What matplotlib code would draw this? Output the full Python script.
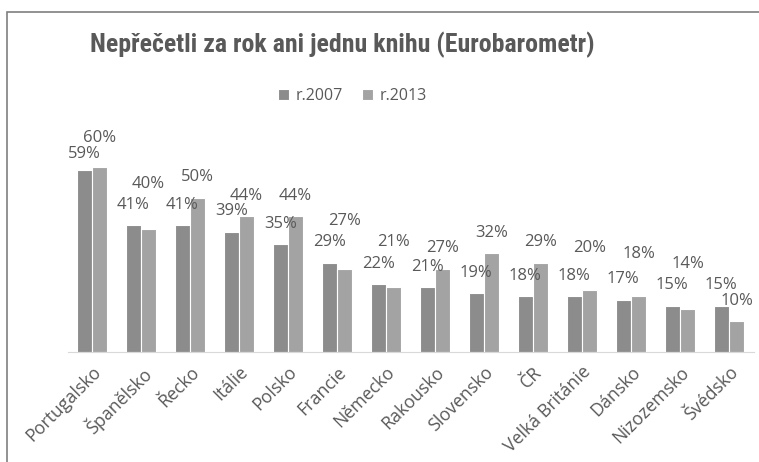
import matplotlib
matplotlib.use("Agg")
import matplotlib.pyplot as plt
import matplotlib.patches as mpatches
import numpy as np

countries = ["Portugalsko", "Španělsko", "Řecko", "Itálie", "Polsko", "Francie",
             "Německo", "Rakousko", "Slovensko", "ČR", "Velká Británie",
             "Dánsko", "Nizozemsko", "Švédsko"]
r2007 = [59, 41, 41, 39, 35, 29, 22, 21, 19, 18, 18, 17, 15, 15]
r2013 = [60, 40, 50, 44, 44, 27, 21, 27, 32, 29, 20, 18, 14, 10]
series = ["r.2007", "r.2013"]

txt = "#595959"
c07 = "#8c8c8c"
c13 = "#a3a3a3"
plt.rcParams['font.family'] = ['Open Sans', 'DejaVu Sans']

fig = plt.figure(figsize=(7.59, 4.62), dpi=100)
ax = fig.add_axes([67.5 / 759, 110 / 462, 686 / 759, 216 / 462])

x = np.arange(len(countries))
w = 0.31
b1 = ax.bar(x - w / 2, r2007, w, color=c07, edgecolor="white", linewidth=0.8, label=series[0])
b2 = ax.bar(x + w / 2, r2013, w, color=c13, edgecolor="white", linewidth=0.8, label=series[1])

# data labels, 2013 label pushed up when it would collide with the 2007 one
off = 6.6
ymax = 70
for i in range(len(x)):
    y07 = r2007[i] + off
    y13 = r2013[i] + off
    if abs(y13 - y07) < 4.5:
        y13 = max(y13, y07) + 7
    if y13 > ymax - 0.5:
        y13 = ymax - 0.5
        y07 = min(y07, y13 - 5.2)
    ax.text(x[i] - w / 2, y07, f"{r2007[i]}%", ha="center", va="center", fontsize=12, color=txt)
    ax.text(x[i] + w / 2, y13, f"{r2013[i]}%", ha="center", va="center", fontsize=12, color=txt)

ax.set_xlim(-0.5, len(x) - 0.5)
ax.set_ylim(0, ymax)
ax.set_yticks([])
ax.set_xticks(x)
ax.set_xticklabels(countries, rotation=45, ha="right", va="top", rotation_mode="anchor",
                   fontsize=12.8, color=txt)
ax.tick_params(axis="x", length=0, pad=8)
for s in ["top", "right", "left"]:
    ax.spines[s].set_visible(False)
ax.spines["bottom"].set_color("#d9d9d9")

title = fig.text(342 / 759, 1 - 45 / 462, "Nepřečetli za rok ani jednu knihu (Eurobarometr)",
                 ha="center", va="center", fontsize=22, fontweight="bold", color=txt,
                 family=["DejaVu Sans Condensed", "Roboto Condensed", "Liberation Sans Narrow", "Roboto"])
# shrink the title until it is as wide as in the source (~505 px)
r = fig.canvas.get_renderer()
tw = title.get_window_extent(r).width
if tw > 505:
    title.set_fontsize(22 * 505 / tw)

fig.legend(handles=[b1, b2], labels=series, loc="center", bbox_to_anchor=(352 / 759, 1 - 96 / 462),
           ncol=2, frameon=False, fontsize=11.5, labelcolor=txt, handlelength=0.7,
           handleheight=0.7, handletextpad=0.4, columnspacing=1.2)

fig.patches.append(mpatches.Rectangle((7 / 759, -0.1), 1.2, 1 - 12 / 462 + 0.1,
                                      transform=fig.transFigure, fill=False,
                                      edgecolor="#7f7f7f", linewidth=1.2))

fig.savefig("out.png", dpi=100)
